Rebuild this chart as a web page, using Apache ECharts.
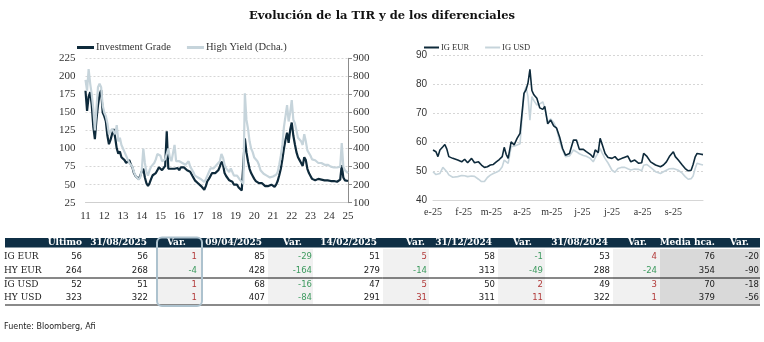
<!DOCTYPE html>
<html><head><meta charset="utf-8">
<script src="https://cdn.jsdelivr.net/npm/echarts@6/dist/echarts.min.js"></script>
<style>html,body{margin:0;padding:0;background:#fff}#c{width:764px;height:342px}</style>
</head><body><div id="c"></div>
<script>
const chartTitle = 'Evolución de la TIR y de los diferenciales';
// Left chart: monthly, Aug 2011 .. Aug 2025
const leftYearLabels = ['11','12','13','14','15','16','17','18','19','20','21','22','23','24','25'];
const igLong = [
 180,152,172,178,160,130,113,140,160,175,181,150,
 145,138,118,106,112,120,127,115,100,93,96,88,
 86,84,80,82,84,78,74,66,62,60,58,62,
 68,72,60,52,48,52,58,63,62,66,70,74,
 72,70,72,76,124,72,70,72,74,72,70,73,
 70,74,76,74,72,70,72,68,66,60,56,54,
 52,50,48,46,43,48,55,58,62,66,64,66,
 68,70,75,82,78,66,62,60,56,58,54,50,
 48,50,46,44,42,41,114,95,82,72,66,62,
 58,55,54,52,50,52,50,48,50,48,47,50,
 48,47,50,55,63,72,85,100,112,122,108,126,
 136,118,106,95,88,84,80,76,88,84,72,66,
 62,58,56,56,55,58,56,57,58,56,55,56,
 57,55,56,55,54,54,56,57,77,60,56,55,
 55];
const hyLong = [
 780,720,840,760,700,620,500,620,740,760,740,640,
 600,580,540,480,490,510,520,480,530,440,460,420,
 400,380,360,340,320,310,300,270,250,240,228,240,
 280,400,320,270,250,280,300,310,320,340,370,380,
 360,330,330,340,350,400,350,330,340,420,330,320,
 330,340,320,330,310,320,330,300,300,270,250,245,
 240,235,230,225,215,230,250,270,290,300,290,300,
 310,320,330,370,350,310,290,300,270,290,270,250,
 245,250,240,225,215,205,706,560,510,440,400,380,
 350,340,330,310,280,275,260,255,250,245,240,250,
 245,240,255,270,310,360,420,520,580,640,550,600,
 668,560,540,500,460,450,440,420,480,440,390,380,
 360,340,330,335,330,320,325,320,315,310,305,310,
 305,300,300,295,290,295,290,300,430,300,280,270,
 264];
// Right chart: day of year 2025
const rightTickDays = [0,31,59,90,120,151,181,212,243];
const rightTickLabels = ['e-25','f-25','m-25','a-25','m-25','j-25','j-25','a-25','s-25'];
const rightDays = [0,3,5,7,10,12,14,16,20,25,29,32,35,39,42,46,49,52,55,58,61,64,67,70,72,74,76,79,82,85,88,90,92,94,96,98,100,102,105,108,111,113,116,119,122,125,128,131,134,138,142,145,148,152,155,159,162,164,167,169,171,174,177,181,184,187,191,194,197,200,204,208,211,213,216,220,225,230,233,236,239,243,245,248,252,255,258,261,263,265,267,270,273];
const igEur = [57.5,56.9,55.2,57.5,58.6,59.4,57.8,55.2,54.6,54,
 53.4,54.3,53.1,54.6,53.1,53.4,52.3,51.5,51.7,52.3,
 52.5,53.4,54.2,55.2,58.4,56,54.6,60.3,59.2,61.5,
 63.2,63.8,77,78.2,80.5,85.3,78,76.5,75.3,72,
 71.5,72.5,66.5,67.8,65.8,65,62,58,55.7,56.3,
 60.9,60.9,57.7,57.7,56.9,56,54.9,57.5,56.6,61.5,
 59.5,56.3,54.9,54.6,55.2,54,54.6,55,55.4,53.4,
 54,52.9,53.1,56.3,55.4,53.4,52.3,51.7,52.3,53.4,
 55.2,56.9,55.2,54,52.3,51.1,50.3,50.5,52.5,55,
 56.3,56.1,55.9];
const igUsd = [50,49,48.9,49.4,51.5,52,50,48.9,48.1,48.3,
 48.7,48.6,48.3,48.5,48.4,47.4,46.6,46.6,48,48.8,
 49.4,49.8,50.3,51.7,54,54.5,52.9,58.6,58.8,59.2,
 59.6,59.8,77,79.3,76,67.8,75.9,74.5,73,73.4,
 74.1,72,67.2,68.2,67,64.9,60.5,57.5,55.2,55.4,
 57.5,56.9,56.2,55.6,55.3,54.6,53.4,54.8,56.5,58,
 56.5,54.5,53,50.5,49.8,51.1,51.5,51.5,51,50.6,
 50.9,50.8,50.3,52.2,52.5,51.5,50,49.4,50,50.5,
 51,51.1,51.1,50.5,49.5,48.3,47.4,47.6,48.5,51,
 52.9,52.6,52.3];
// Table
const tblHeaders = ['Último','31/08/2025','Var.','09/04/2025','Var.','14/02/2025','Var.','31/12/2024','Var.','31/08/2024','Var.','Media hca.','Var.'];
const tblRowNames = ['IG EUR','HY EUR','IG USD','HY USD'];
const tblValues = [
 [56,56,1,85,-29,51,5,58,-1,53,4,76,-20],
 [264,268,-4,428,-164,279,-14,313,-49,288,-24,354,-90],
 [52,51,1,68,-16,47,5,50,2,49,3,70,-18],
 [323,322,1,407,-84,291,31,311,11,322,1,379,-56]];
const tblSource = 'Fuente: Bloomberg, Afi';

// ---- layout / style ----
const C_DARK = '#0e2a3b', C_LIGHT = '#c6d4db', NAVY = '#0f2f45';
const colRight = [82,148,197,265,312,380,427,495,543,610,657,715,759];
const headRight = [82,147,186,262,302,377,425,492,532,608,647,715,749];
const rowY = [257,271,284.5,298];
const varCols = [2,4,6,8,10];
const shadeCols = [[157,202],[268,313],[383,429],[498,545],[613,660]];

const g = [];
g.push({type:'rect', shape:{x:5,y:238,width:755,height:9.5}, style:{fill:NAVY}});
shadeCols.forEach(s=>g.push({type:'rect', shape:{x:s[0],y:249,width:s[1]-s[0],height:55}, style:{fill:'#f1f1f1'}}));
g.push({type:'rect', shape:{x:660,y:249,width:100,height:55}, style:{fill:'#d9d9d9'}});
g.push({type:'line', shape:{x1:5,y1:278,x2:760,y2:278}, style:{stroke:'#111',lineWidth:1}});
g.push({type:'line', shape:{x1:5,y1:305,x2:760,y2:305}, style:{stroke:'#8a8a8a',lineWidth:2}});
tblHeaders.forEach((h,i)=>g.push({type:'text', x:headRight[i], y:243, style:{text:h, fill:'#fff', font:'bold 9px "DejaVu Serif"', align:'right', verticalAlign:'middle'}}));
tblRowNames.forEach((r,j)=>{
  g.push({type:'text', x:4, y:rowY[j], style:{text:r, fill:'#222', font:'9px "DejaVu Serif"', align:'left', verticalAlign:'middle'}});
  tblValues[j].forEach((v,i)=>{
    let col = '#222';
    if (varCols.indexOf(i)>=0) col = v>0 ? '#b23a3a' : '#3d9a5f';
    g.push({type:'text', x:colRight[i], y:rowY[j], style:{text:String(v), fill:col, font:'8.5px "DejaVu Sans"', align:'right', verticalAlign:'middle'}});
  });
});
g.push({type:'rect', shape:{x:157,y:237.5,width:45,height:68.5,r:5}, style:{fill:null, stroke:'#adc2ce', lineWidth:2}});
g.push({type:'text', x:4, y:327, style:{text:tblSource, fill:'#222', font:'8px "DejaVu Sans"', align:'left', verticalAlign:'middle'}});

const gridLine = {show:true, lineStyle:{color:'#d6d6d6', type:[2,2], width:1}};
const chart = echarts.init(document.getElementById('c'), null, {renderer:'canvas'});
chart.setOption({
  animation:false,
  title:{text:chartTitle, left:'center', top:5, textStyle:{fontFamily:'DejaVu Serif', fontWeight:'bold', fontSize:11.5, color:'#111'}},
  legend:[
    {left:72, top:37, itemWidth:17, itemHeight:3, itemGap:16, icon:'rect', data:['Investment Grade','High Yield (Dcha.)'],
     textStyle:{fontFamily:'Liberation Serif', fontSize:10.5, color:'#333', padding:[0,0,0,-3]}},
    {left:419, top:38, itemWidth:15, itemHeight:2, itemGap:16, icon:'rect', data:['IG EUR','IG USD'],
     textStyle:{fontFamily:'Liberation Serif', fontSize:8.5, color:'#333', padding:[0,0,0,-3]}}
  ],
  grid:[
    {left:85.5, right:416, top:58.3, bottom:139.3},
    {left:433, right:61, top:55.7, bottom:141.3}
  ],
  xAxis:[
    {type:'value', gridIndex:0, min:0, max:168, interval:12,
     axisLine:{show:true, lineStyle:{color:'#cfcfcf'}}, axisTick:{show:false}, splitLine:{show:false},
     axisLabel:{margin:8, color:'#333', fontFamily:'Liberation Serif', fontSize:11, formatter:v=>leftYearLabels[Math.round(v/12)]}},
    {type:'value', gridIndex:1, min:0, max:273,
     axisLine:{show:true, lineStyle:{color:'#d6d6d6'}}, axisTick:{show:false}, splitLine:{show:false},
     axisLabel:{margin:7, color:'#333', fontFamily:'Liberation Serif', fontSize:10, customValues:rightTickDays,
       formatter:v=>{const k=rightTickDays.indexOf(v); return k>=0?rightTickLabels[k]:'';}}}
  ],
  yAxis:[
    {type:'value', gridIndex:0, min:25, max:225, interval:25, axisLine:{show:false}, axisTick:{show:false},
     splitLine:gridLine, axisLabel:{margin:10, color:'#333', fontFamily:'Liberation Serif', fontSize:11}},
    {type:'value', gridIndex:0, position:'right', min:100, max:900, interval:100,
     axisLine:{show:true, lineStyle:{color:'#8c8c8c'}}, axisTick:{show:true, inside:false, length:4, lineStyle:{color:'#8c8c8c'}},
     splitLine:{show:false}, axisLabel:{margin:5, color:'#333', fontFamily:'Liberation Serif', fontSize:11}},
    {type:'value', gridIndex:1, min:40, max:90, interval:10, axisLine:{show:false}, axisTick:{show:false},
     splitLine:gridLine, axisLabel:{margin:6, color:'#333', fontFamily:'Liberation Sans', fontSize:10}}
  ],
  series:[
    {name:'Investment Grade', type:'line', xAxisIndex:0, yAxisIndex:0, showSymbol:false, color:C_DARK,
     lineStyle:{width:2.2, color:C_DARK}, data:igLong.map((v,i)=>[i,v])},
    {name:'High Yield (Dcha.)', type:'line', xAxisIndex:0, yAxisIndex:1, showSymbol:false, color:C_LIGHT,
     lineStyle:{width:2.2, color:C_LIGHT}, data:hyLong.map((v,i)=>[i,v])},
    {name:'IG USD', type:'line', xAxisIndex:1, yAxisIndex:2, showSymbol:false, color:C_LIGHT,
     lineStyle:{width:1.6, color:C_LIGHT}, data:rightDays.map((d,i)=>[d,igUsd[i]])},
    {name:'IG EUR', type:'line', xAxisIndex:1, yAxisIndex:2, showSymbol:false, color:C_DARK,
     lineStyle:{width:1.6, color:C_DARK}, data:rightDays.map((d,i)=>[d,igEur[i]])}
  ],
  graphic:g
});
</script></body></html>
